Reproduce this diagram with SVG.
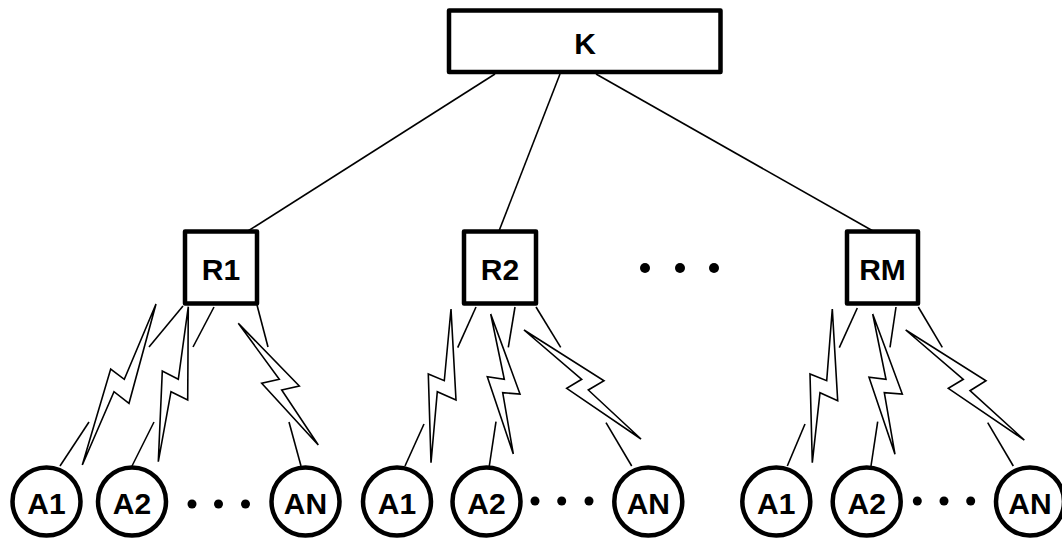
<svg xmlns="http://www.w3.org/2000/svg" width="1062" height="539" viewBox="0 0 1062 539">
<style>
.box{fill:#fff;stroke:#000;stroke-width:4.5;stroke-linejoin:round}
.node{fill:#fff;stroke:#000;stroke-width:4.5}
.lbl{font-family:"Liberation Sans",Arial,sans-serif;font-weight:bold;font-size:30px;fill:#000;text-anchor:middle;dominant-baseline:central}
.ln{stroke:#000;stroke-width:1.6;fill:none}
.bolt{fill:#fff;stroke:#000;stroke-width:1.6;stroke-linejoin:miter}
.dot{fill:#000}
</style>
<rect width="1062" height="539" fill="#fff"/>
<g id="connectors">
  <line class="ln" x1="495" y1="74" x2="248" y2="231"/>
  <line class="ln" x1="560" y1="74" x2="499" y2="231"/>
  <line class="ln" x1="596" y1="74" x2="873" y2="231"/>
  <!-- group 1 -->
  <line class="ln" x1="183" y1="306" x2="149" y2="347"/>
  <line class="ln" x1="214" y1="307" x2="193" y2="347"/>
  <line class="ln" x1="257" y1="305" x2="268" y2="347"/>
  <line class="ln" x1="60" y1="466" x2="89" y2="422"/>
  <line class="ln" x1="132" y1="466" x2="154" y2="422"/>
  <line class="ln" x1="301" y1="466" x2="289" y2="422"/>
  <polygon class="bolt" points="156,304 124.3,379.3 110.7,369 82.3,465 114,391.7 129,403.3"/>
  <polygon class="bolt" points="188.3,306.7 178.3,379.3 162.3,371 158.3,461.7 171,391.7 187.7,400"/>
  <polygon class="bolt" points="238.3,323.3 279.3,379.3 261.7,383.3 318.3,445 281.7,390 299.3,386"/>
  <!-- group 2 -->
  <line class="ln" x1="476" y1="307" x2="457.7" y2="347.7"/>
  <line class="ln" x1="515" y1="307" x2="508.3" y2="347.3"/>
  <line class="ln" x1="536" y1="307" x2="560.7" y2="347.3"/>
  <line class="ln" x1="405" y1="466" x2="424" y2="424"/>
  <line class="ln" x1="489.3" y1="466" x2="496" y2="421.7"/>
  <line class="ln" x1="631.7" y1="466" x2="606" y2="422.7"/>
  <polygon class="bolt" points="451,309 444.3,380.7 428.3,374 431,462.7 437.3,391.7 456,400"/>
  <polygon class="bolt" points="490.7,314 504.3,379.3 487.3,376.7 513.3,454 502.7,392.7 520,394"/>
  <polygon class="bolt" points="524,330 581.7,379.3 566.7,388.3 641,439 588.3,390 604,380.7"/>
  <!-- group 3 -->
  <line class="ln" x1="857.3" y1="308" x2="839.3" y2="347.7"/>
  <line class="ln" x1="896" y1="307" x2="890" y2="347.3"/>
  <line class="ln" x1="918.3" y1="307" x2="942.3" y2="347.3"/>
  <line class="ln" x1="787.3" y1="466" x2="805" y2="424"/>
  <line class="ln" x1="871" y1="466" x2="877.7" y2="421.7"/>
  <line class="ln" x1="1013.3" y1="466" x2="987.7" y2="422.7"/>
  <polygon class="bolt" points="832.3,309 826.7,380.7 810,374 812.3,462.7 820,392.7 837.7,400.7"/>
  <polygon class="bolt" points="872.7,314 886,379.3 869,377.3 895,454.3 884.3,392.7 902.3,394"/>
  <polygon class="bolt" points="905.7,330 963.3,379.3 948.3,388.3 1024.3,440 970,390.7 986,380.7"/>
</g>
<g id="K"><rect class="box" x="449" y="10.5" width="271.5" height="61.5"/><text class="lbl" x="585" y="43">K</text></g>
<g id="R1"><rect class="box" x="185" y="231.5" width="72" height="72"/><text class="lbl" x="221" y="269">R1</text></g>
<g id="R2"><rect class="box" x="464" y="231.5" width="72" height="72"/><text class="lbl" x="500" y="269">R2</text></g>
<g id="RM"><rect class="box" x="847" y="231.5" width="71" height="72"/><text class="lbl" x="882.5" y="269">RM</text></g>
<g id="dots-top"><circle class="dot" cx="645" cy="268" r="5"/><circle class="dot" cx="680" cy="268" r="5"/><circle class="dot" cx="714" cy="268" r="5"/></g>
<g id="G1-A1"><circle class="node" cx="46.5" cy="501.5" r="34"/><text class="lbl" x="46.5" y="503">A1</text></g>
<g id="G1-A2"><circle class="node" cx="132" cy="501.5" r="34"/><text class="lbl" x="132" y="503">A2</text></g>
<g id="G1-dots"><circle class="dot" cx="192" cy="504" r="4.5"/><circle class="dot" cx="218.5" cy="504" r="4.5"/><circle class="dot" cx="245.5" cy="504" r="4.5"/></g>
<g id="G1-AN"><circle class="node" cx="305.5" cy="501.5" r="34"/><text class="lbl" x="305.5" y="503">AN</text></g>
<g id="G2-A1"><circle class="node" cx="397" cy="501.5" r="34"/><text class="lbl" x="397" y="503">A1</text></g>
<g id="G2-A2"><circle class="node" cx="486.5" cy="501.5" r="34"/><text class="lbl" x="486.5" y="503">A2</text></g>
<g id="G2-dots"><circle class="dot" cx="535" cy="501" r="4.5"/><circle class="dot" cx="561.7" cy="501" r="4.5"/><circle class="dot" cx="589" cy="501" r="4.5"/></g>
<g id="G2-AN"><circle class="node" cx="648.3" cy="501.5" r="34"/><text class="lbl" x="648.3" y="503">AN</text></g>
<g id="G3-A1"><circle class="node" cx="776.3" cy="501.5" r="34"/><text class="lbl" x="776.3" y="503">A1</text></g>
<g id="G3-A2"><circle class="node" cx="866.7" cy="501.5" r="34"/><text class="lbl" x="866.7" y="503">A2</text></g>
<g id="G3-dots"><circle class="dot" cx="917.3" cy="501" r="4.5"/><circle class="dot" cx="944" cy="501" r="4.5"/><circle class="dot" cx="970.7" cy="501" r="4.5"/></g>
<g id="G3-AN"><circle class="node" cx="1030" cy="501.5" r="34"/><text class="lbl" x="1030" y="503">AN</text></g>
</svg>
